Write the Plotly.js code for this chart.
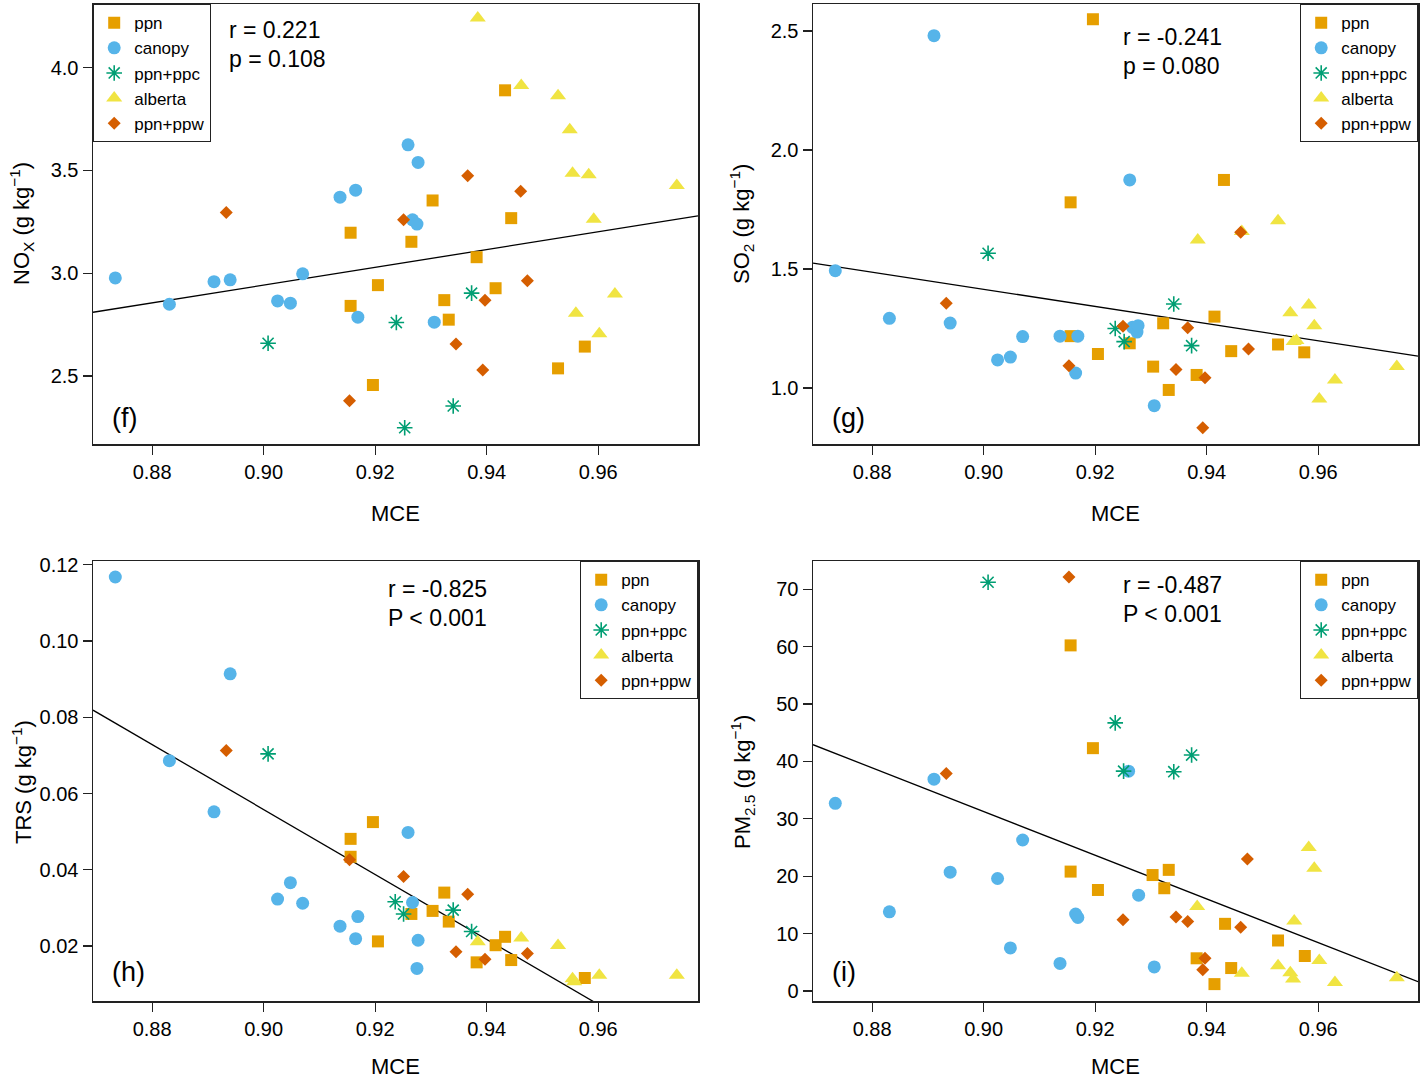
<!DOCTYPE html>
<html>
<head>
<meta charset="utf-8">
<script src="https://cdn.plot.ly/plotly-3.0.1.min.js"></script>
<style>html,body{margin:0;padding:0;background:#fff;}#chart{width:1423px;height:1080px;}</style>
</head>
<body>
<div id="chart"></div>
<script>
// ---------- DATA ----------
const groups = ["ppn", "canopy", "ppn+ppc", "alberta", "ppn+ppw"];

// Panel (f) NOx
const nox_ppn_x = [0.9156, 0.9205, 0.9156, 0.9196, 0.9433, 0.9303, 0.9444, 0.9265, 0.9382, 0.9416, 0.9324, 0.9332, 0.9576, 0.9528];
const nox_ppn_y = [3.197, 2.942, 2.841, 2.456, 3.890, 3.354, 3.268, 3.153, 3.078, 2.927, 2.869, 2.774, 2.643, 2.537];
const nox_can_x = [0.8734, 0.8831, 0.8911, 0.8940, 0.9025, 0.9048, 0.9070, 0.9137, 0.9165, 0.9169, 0.9259, 0.9267, 0.9275, 0.9277, 0.9306];
const nox_can_y = [2.977, 2.849, 2.959, 2.968, 2.865, 2.854, 2.997, 3.370, 3.404, 2.786, 3.625, 3.260, 3.239, 3.539, 2.762];
const nox_ppc_x = [0.9008, 0.9238, 0.9253, 0.9373, 0.9340];
const nox_ppc_y = [2.659, 2.760, 2.248, 2.903, 2.354];
const nox_alb_x = [0.9384, 0.9462, 0.9528, 0.9549, 0.9554, 0.9583, 0.9741, 0.9592, 0.9630, 0.9560, 0.9602];
const nox_alb_y = [4.242, 3.914, 3.864, 3.698, 3.487, 3.479, 3.427, 3.263, 2.899, 2.805, 2.705];
const nox_ppw_x = [0.8933, 0.9154, 0.9251, 0.9366, 0.9461, 0.9473, 0.9397, 0.9345, 0.9393];
const nox_ppw_y = [3.296, 2.380, 3.260, 3.474, 3.399, 2.963, 2.869, 2.656, 2.529];
const nox_fit = [-0.9458, 4.32];   // [intercept, slope]

// Panel (g) SO2
const so2_ppn_x = [0.9196, 0.9156, 0.9156, 0.9205, 0.9431, 0.9414, 0.9322, 0.9262, 0.9528, 0.9575, 0.9444, 0.9304, 0.9382, 0.9332];
const so2_ppn_y = [2.549, 1.780, 1.218, 1.143, 1.874, 1.300, 1.272, 1.188, 1.183, 1.150, 1.155, 1.090, 1.055, 0.992];
const so2_can_x = [0.8734, 0.8831, 0.8911, 0.8940, 0.9025, 0.9048, 0.9070, 0.9137, 0.9165, 0.9169, 0.9262, 0.9267, 0.9275, 0.9277, 0.9306];
const so2_can_y = [1.493, 1.293, 2.480, 1.273, 1.118, 1.130, 1.216, 1.218, 1.063, 1.218, 1.874, 1.255, 1.235, 1.262, 0.926];
const so2_ppc_x = [0.9008, 0.9341, 0.9236, 0.9252, 0.9373];
const so2_ppc_y = [1.566, 1.353, 1.250, 1.195, 1.178];
const so2_alb_x = [0.9384, 0.9463, 0.9528, 0.9583, 0.9550, 0.9593, 0.9556, 0.9561, 0.9741, 0.9630, 0.9602];
const so2_alb_y = [1.622, 1.658, 1.703, 1.349, 1.316, 1.262, 1.195, 1.200, 1.090, 1.034, 0.954];
const so2_ppw_x = [0.8933, 0.9153, 0.9250, 0.9366, 0.9475, 0.9345, 0.9397, 0.9393, 0.9461];
const so2_ppw_y = [1.356, 1.094, 1.260, 1.253, 1.164, 1.078, 1.043, 0.833, 1.654];
const so2_fit = [4.6548, -3.6];

// Panel (h) TRS
const trs_ppn_x = [0.9156, 0.9156, 0.9196, 0.9205, 0.9265, 0.9303, 0.9324, 0.9332, 0.9433, 0.9416, 0.9382, 0.9444, 0.9576];
const trs_ppn_y = [0.0481, 0.0434, 0.0525, 0.0212, 0.0284, 0.0292, 0.0340, 0.0264, 0.0224, 0.0202, 0.0157, 0.0163, 0.0116];
const trs_can_x = [0.8734, 0.8940, 0.8831, 0.8911, 0.9048, 0.9025, 0.9070, 0.9137, 0.9169, 0.9165, 0.9259, 0.9267, 0.9277, 0.9275];
const trs_can_y = [0.1168, 0.0914, 0.0686, 0.0552, 0.0366, 0.0323, 0.0312, 0.0252, 0.0277, 0.0219, 0.0498, 0.0314, 0.0215, 0.0141];
const trs_ppc_x = [0.9008, 0.9236, 0.9251, 0.9340, 0.9373];
const trs_ppc_y = [0.0704, 0.0316, 0.0284, 0.0294, 0.0238];
const trs_alb_x = [0.9384, 0.9462, 0.9528, 0.9554, 0.9557, 0.9602, 0.9741];
const trs_alb_y = [0.0211, 0.0221, 0.0201, 0.0114, 0.0106, 0.0123, 0.0123];
const trs_ppw_x = [0.8933, 0.9154, 0.9251, 0.9366, 0.9345, 0.9397, 0.9473];
const trs_ppw_y = [0.0713, 0.0426, 0.0382, 0.0336, 0.0185, 0.0165, 0.0180];
const trs_fit = [0.8226, -0.852];

// Panel (i) PM2.5
const pm_ppn_x = [0.9156, 0.9196, 0.9156, 0.9205, 0.9303, 0.9332, 0.9324, 0.9433, 0.9528, 0.9576, 0.9382, 0.9444, 0.9414];
const pm_ppn_y = [60.2, 42.3, 20.8, 17.6, 20.2, 21.1, 17.9, 11.7, 8.8, 6.1, 5.7, 4.0, 1.2];
const pm_can_x = [0.8734, 0.8911, 0.8831, 0.8940, 0.9025, 0.9048, 0.9070, 0.9137, 0.9165, 0.9169, 0.9260, 0.9278, 0.9306];
const pm_can_y = [32.7, 36.9, 13.8, 20.7, 19.6, 7.5, 26.3, 4.8, 13.4, 12.8, 38.3, 16.7, 4.2];
const pm_ppc_x = [0.9008, 0.9236, 0.9251, 0.9341, 0.9373];
const pm_ppc_y = [71.2, 46.7, 38.3, 38.2, 41.1];
const pm_alb_x = [0.9583, 0.9593, 0.9383, 0.9557, 0.9602, 0.9528, 0.9463, 0.9550, 0.9555, 0.9630, 0.9741];
const pm_alb_y = [25.0, 21.4, 14.7, 12.2, 5.3, 4.4, 3.1, 3.2, 2.1, 1.5, 2.3];
const pm_ppw_x = [0.9153, 0.8933, 0.9473, 0.9250, 0.9345, 0.9366, 0.9461, 0.9397, 0.9393];
const pm_ppw_y = [72.1, 37.9, 23.0, 12.4, 12.9, 12.1, 11.1, 5.7, 3.7];
const pm_fit = [373.8, -380.6];

const xTicks = [0.88, 0.90, 0.92, 0.94, 0.96];
const statText = [["r = 0.221", "p = 0.108"], ["r = -0.241", "p = 0.080"], ["r = -0.825", "P < 0.001"], ["r = -0.487", "P < 0.001"]];
const panelLabels = ["(f)", "(g)", "(h)", "(i)"];
const yTitles = ["NO<sub>X</sub> (g kg<sup>−1</sup>)", "SO<sub>2</sub> (g kg<sup>−1</sup>)", "TRS (g kg<sup>−1</sup>)", "PM<sub>2.5</sub> (g kg<sup>−1</sup>)"];
const xTitle = "MCE";

// ---------- STYLE ----------
const W = 1423, H = 1080;
const px = v => v / W, py = v => 1 - v / H;
const colors = ["#E69F00", "#56B4E9", "#009E73", "#F0E442", "#D55E00"];
const symbols = ["square", "circle", "asterisk-open", "triangle-up", "diamond"];
const sizes = [12, 13, 13, 14, 10];
const XR = [0.8694, 0.9779];
const tickFont = {family: "'Liberation Sans Narrow', 'Arial Narrow', 'Liberation Sans', Arial, sans-serif", size: 20, color: "#000"};
const txtFont = {family: "'Liberation Sans', Arial, sans-serif", color: "#000"};

const panels = [
  {data: [[nox_ppn_x, nox_ppn_y], [nox_can_x, nox_can_y], [nox_ppc_x, nox_ppc_y], [nox_alb_x, nox_alb_y], [nox_ppw_x, nox_ppw_y]], fit: nox_fit},
  {data: [[so2_ppn_x, so2_ppn_y], [so2_can_x, so2_can_y], [so2_ppc_x, so2_ppc_y], [so2_alb_x, so2_alb_y], [so2_ppw_x, so2_ppw_y]], fit: so2_fit},
  {data: [[trs_ppn_x, trs_ppn_y], [trs_can_x, trs_can_y], [trs_ppc_x, trs_ppc_y], [trs_alb_x, trs_alb_y], [trs_ppw_x, trs_ppw_y]], fit: trs_fit},
  {data: [[pm_ppn_x, pm_ppn_y], [pm_can_x, pm_can_y], [pm_ppc_x, pm_ppc_y], [pm_alb_x, pm_alb_y], [pm_ppw_x, pm_ppw_y]], fit: pm_fit}
];

const traces = [];
panels.forEach((p, i) => {
  const ax = i === 0 ? "" : String(i + 1);
  const leg = i === 0 ? "legend" : "legend" + (i + 1);
  traces.push({
    x: XR, y: XR.map(x => p.fit[0] + p.fit[1] * x),
    xaxis: "x" + ax, yaxis: "y" + ax, mode: "lines",
    line: {color: "#000", width: 1.3}, showlegend: false, hoverinfo: "skip"
  });
  p.data.forEach((d, g) => {
    const isStar = symbols[g] === "asterisk-open";
    traces.push({
      x: d[0], y: d[1], name: groups[g], legend: leg,
      xaxis: "x" + ax, yaxis: "y" + ax, mode: "markers", type: "scatter",
      marker: {symbol: symbols[g], size: sizes[g], color: colors[g],
               line: isStar ? {color: colors[g], width: 1.6} : {width: 0}},
      cliponaxis: true
    });
  });
});

const yCfg = [
  {range: [2.169, 4.31], tickvals: [2.5, 3.0, 3.5, 4.0], tickformat: ".1f"},
  {range: [0.765, 2.613], tickvals: [1.0, 1.5, 2.0, 2.5], tickformat: ".1f"},
  {range: [0.00556, 0.121], tickvals: [0.02, 0.04, 0.06, 0.08, 0.10, 0.12], tickformat: ".2f"},
  {range: [-1.74, 74.9], tickvals: [0, 10, 20, 30, 40, 50, 60, 70], tickformat: "d"}
];
const xDom = [[px(93), px(698)], [px(813), px(1418)]];
const yDom = [[py(444), py(4)], [py(1001), py(561)]];

const layout = {
  width: W, height: H, margin: {l: 0, r: 0, t: 0, b: 0},
  paper_bgcolor: "#fff", plot_bgcolor: "#fff", font: txtFont,
  annotations: [], showlegend: true
};
const axBase = {showgrid: false, zeroline: false, showline: true, mirror: true, linecolor: "#222", linewidth: 1.5,
  ticks: "outside", ticklen: 9, tickwidth: 1.2, tickcolor: "#222", tickfont: tickFont, fixedrange: true};

const legPos = [
  {x: px(93), y: py(4), xanchor: "left"},
  {x: px(1418), y: py(4), xanchor: "right"},
  {x: px(698), y: py(561), xanchor: "right"},
  {x: px(1418), y: py(561), xanchor: "right"}
];
const statPos = [[227, 30], [1121, 37], [386, 589], [1121, 585]];
const labPos = [[110, 418], [830, 418], [110, 972], [830, 972]];
const yTitlePos = [[22, 224], [742, 224], [22, 782], [742, 782]];
const xTitlePos = [[395, 513], [1115, 513], [395, 1066], [1115, 1066]];

for (let i = 0; i < 4; i++) {
  const ax = i === 0 ? "" : String(i + 1);
  const col = i % 2, row = Math.floor(i / 2);
  layout["xaxis" + ax] = Object.assign({}, axBase, {domain: xDom[col], range: XR, tickvals: xTicks, tickformat: ".2f", anchor: "y" + ax});
  layout["yaxis" + ax] = Object.assign({}, axBase, {domain: yDom[row], anchor: "x" + ax}, yCfg[i]);
  layout[i === 0 ? "legend" : "legend" + (i + 1)] = Object.assign({
    yanchor: "top", bgcolor: "#fff", bordercolor: "#222", borderwidth: 1.2,
    font: {family: "'Liberation Sans', Arial, sans-serif", size: 17, color: "#000"},
    itemwidth: 30, tracegroupgap: 0, traceorder: "normal"
  }, legPos[i]);
  layout.annotations.push(
    {xref: "paper", yref: "paper", x: px(statPos[i][0]), y: py(statPos[i][1]), xanchor: "left", yanchor: "middle",
     text: statText[i][0], showarrow: false, font: {size: 23, color: "#000"}},
    {xref: "paper", yref: "paper", x: px(statPos[i][0]), y: py(statPos[i][1] + 29), xanchor: "left", yanchor: "middle",
     text: statText[i][1], showarrow: false, font: {size: 23, color: "#000"}},
    {xref: "paper", yref: "paper", x: px(labPos[i][0]), y: py(labPos[i][1]), xanchor: "left", yanchor: "middle",
     text: panelLabels[i], showarrow: false, font: {size: 27, color: "#000"}},
    {xref: "paper", yref: "paper", x: px(yTitlePos[i][0]), y: py(yTitlePos[i][1]), xanchor: "center", yanchor: "middle",
     text: yTitles[i], textangle: -90, showarrow: false, font: {family: tickFont.family, size: 22, color: "#000"}},
    {xref: "paper", yref: "paper", x: px(xTitlePos[i][0]), y: py(xTitlePos[i][1]), xanchor: "center", yanchor: "middle",
     text: xTitle, showarrow: false, font: {family: tickFont.family, size: 22, color: "#000"}}
  );
}

Plotly.newPlot("chart", traces, layout, {staticPlot: true, displayModeBar: false});
</script>
</body>
</html>
